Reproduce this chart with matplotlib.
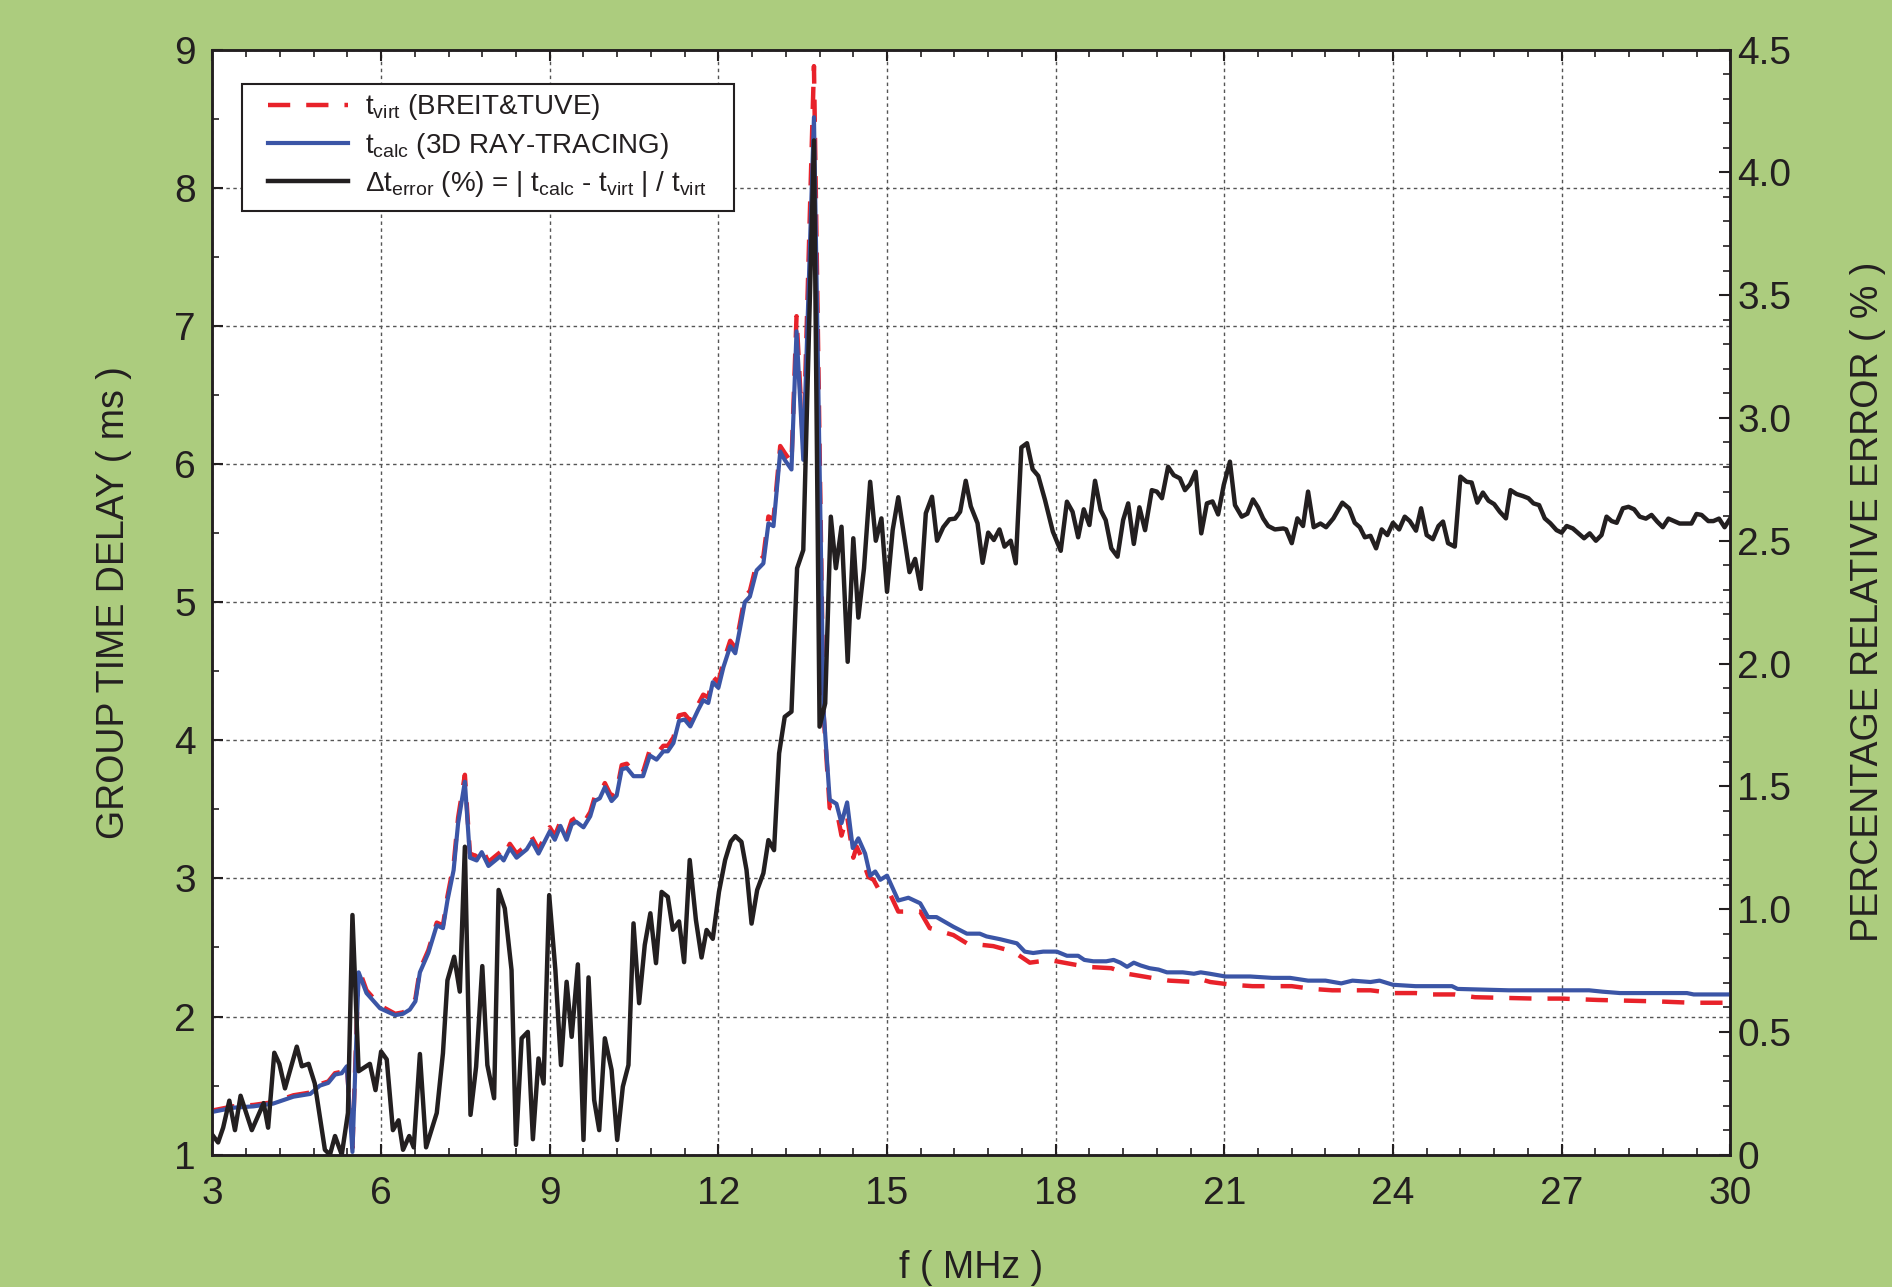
import matplotlib
matplotlib.use('Agg')
import matplotlib.pyplot as plt
from matplotlib.patches import Rectangle
from matplotlib.ticker import MultipleLocator, FixedLocator, FixedFormatter

# ---------------- data ----------------
calc_f = [3.00, 3.37, 3.73, 4.08, 4.44, 4.74, 4.91, 5.06, 5.18, 5.30, 5.39, 5.49, 5.60, 5.74, 5.98,
          6.25, 6.39, 6.51, 6.61, 6.69, 6.84, 6.99, 7.10, 7.18, 7.29, 7.37, 7.49, 7.58, 7.70, 7.79,
          7.91, 8.12, 8.18, 8.29, 8.41, 8.59, 8.68, 8.80, 9.00, 9.09, 9.19, 9.30, 9.39, 9.47, 9.60,
          9.72, 9.80, 9.89, 9.98, 10.10, 10.19, 10.28, 10.37, 10.49, 10.66, 10.78, 10.90, 11.02, 11.10,
          11.20, 11.30, 11.40, 11.50, 11.64, 11.73, 11.82, 11.90, 12.00, 12.09, 12.21, 12.30, 12.38,
          12.47, 12.56, 12.68, 12.80, 12.89, 12.98, 13.10, 13.18, 13.30, 13.39, 13.51, 13.70, 13.87,
          13.98, 14.10, 14.19, 14.29, 14.39, 14.49, 14.61, 14.70, 14.79, 14.88, 15.00, 15.20, 15.38,
          15.59, 15.73, 15.88, 16.18, 16.42, 16.65, 16.77, 17.01, 17.31, 17.45, 17.60, 17.78, 18.02,
          18.20, 18.40, 18.51, 18.67, 18.90, 19.03, 19.15, 19.27, 19.39, 19.51, 19.67, 19.83, 19.98,
          20.26, 20.46, 20.58, 20.74, 21.02, 21.22, 21.46, 21.85, 22.17, 22.49, 22.80, 23.08, 23.28,
          23.60, 23.76, 24.00, 24.40, 25.05, 25.15, 26.06, 27.00, 27.49, 27.73, 28.04, 29.23, 29.35, 30.00]
calc_t = [1.31, 1.34, 1.35, 1.37, 1.42, 1.44, 1.50, 1.52, 1.58, 1.59, 1.64, 1.02, 2.32, 2.17, 2.06,
          2.01, 2.02, 2.05, 2.11, 2.32, 2.46, 2.66, 2.64, 2.84, 3.06, 3.40, 3.70, 3.15, 3.13, 3.19,
          3.09, 3.16, 3.13, 3.22, 3.15, 3.21, 3.27, 3.18, 3.34, 3.28, 3.38, 3.28, 3.39, 3.41, 3.37,
          3.45, 3.56, 3.58, 3.66, 3.56, 3.60, 3.79, 3.80, 3.74, 3.74, 3.89, 3.86, 3.92, 3.92,
          3.98, 4.14, 4.15, 4.10, 4.22, 4.29, 4.27, 4.42, 4.38, 4.53, 4.68, 4.63, 4.80,
          5.00, 5.04, 5.23, 5.28, 5.57, 5.55, 6.09, 6.03, 5.96, 6.96, 6.03, 8.51, 4.22,
          3.57, 3.54, 3.40, 3.55, 3.22, 3.29, 3.18, 3.02, 3.05, 2.99, 3.02, 2.84, 2.86,
          2.82, 2.72, 2.72, 2.65, 2.60, 2.60, 2.58, 2.56, 2.53, 2.47, 2.46, 2.47, 2.47,
          2.44, 2.44, 2.41, 2.40, 2.40, 2.41, 2.39, 2.36, 2.39, 2.37, 2.35, 2.34, 2.32,
          2.32, 2.31, 2.32, 2.31, 2.29, 2.29, 2.29, 2.28, 2.28, 2.26, 2.26, 2.24, 2.26,
          2.25, 2.26, 2.23, 2.22, 2.22, 2.20, 2.19, 2.19, 2.19, 2.18, 2.17, 2.17, 2.16, 2.16]

virt_f = [3.00, 3.37, 3.73, 4.08, 4.44, 4.74, 4.91, 5.06, 5.18, 5.30, 5.39, 5.49, 5.60, 5.74, 5.98,
          6.25, 6.39, 6.51, 6.61, 6.69, 6.84, 6.99, 7.10, 7.18, 7.29, 7.37, 7.49, 7.58, 7.70, 7.79,
          7.91, 8.12, 8.18, 8.29, 8.41, 8.59, 8.68, 8.80, 9.00, 9.09, 9.19, 9.30, 9.39, 9.47, 9.60,
          9.72, 9.80, 9.89, 9.98, 10.10, 10.19, 10.28, 10.37, 10.49, 10.66, 10.78, 10.90, 11.02, 11.10,
          11.20, 11.30, 11.40, 11.50, 11.64, 11.73, 11.82, 11.90, 12.00, 12.09, 12.21, 12.30, 12.38,
          12.47, 12.56, 12.68, 12.80, 12.89, 12.98, 13.10, 13.18, 13.30, 13.39, 13.51, 13.70, 13.87,
          13.98, 14.10, 14.19, 14.29, 14.40, 14.46, 14.55, 14.67, 14.76, 14.84, 15.05, 15.20, 15.59,
          15.76, 16.18, 16.42, 16.89, 17.25, 17.54, 17.72, 17.88, 18.28, 18.55, 18.99, 19.27, 19.71,
          20.02, 20.46, 20.58, 20.75, 21.14, 21.50, 21.85, 22.20, 22.57, 22.92, 23.28, 23.60, 24.00,
          24.40, 24.71, 25.10, 25.46, 26.53, 27.00, 27.65, 28.68, 29.31, 30.00]
virt_t = [1.32, 1.35, 1.36, 1.38, 1.43, 1.45, 1.51, 1.53, 1.59, 1.60, 1.65, 1.05, 2.35, 2.19, 2.08,
          2.02, 2.03, 2.06, 2.13, 2.34, 2.48, 2.68, 2.66, 2.87, 3.10, 3.44, 3.75, 3.18, 3.16, 3.22,
          3.12, 3.19, 3.16, 3.25, 3.18, 3.24, 3.30, 3.21, 3.37, 3.31, 3.41, 3.31, 3.42, 3.44, 3.40,
          3.48, 3.59, 3.61, 3.69, 3.59, 3.63, 3.82, 3.83, 3.77, 3.77, 3.93, 3.90, 3.96, 3.96,
          4.02, 4.18, 4.19, 4.14, 4.26, 4.33, 4.31, 4.46, 4.42, 4.57, 4.72, 4.67, 4.84,
          5.04, 5.08, 5.28, 5.33, 5.62, 5.60, 6.13, 6.08, 6.01, 7.07, 6.10, 8.88, 4.20,
          3.51, 3.50, 3.31, 3.45, 3.15, 3.23, 3.15, 3.01, 2.99, 2.93, 2.89, 2.76, 2.76,
          2.64, 2.59, 2.53, 2.51, 2.47, 2.39, 2.40, 2.41, 2.38, 2.36, 2.35, 2.31, 2.28,
          2.26, 2.25, 2.27, 2.25, 2.23, 2.22, 2.22, 2.22, 2.20, 2.19, 2.19, 2.19, 2.17,
          2.17, 2.16, 2.16, 2.14, 2.13, 2.13, 2.12, 2.11, 2.10, 2.10]

err_f = [3.00, 3.10, 3.19, 3.30, 3.40, 3.50, 3.70, 3.91, 3.99, 4.10, 4.19, 4.29, 4.50, 4.59, 4.71,
         4.82, 5.00, 5.09, 5.18, 5.30, 5.41, 5.49, 5.60, 5.80, 5.90, 6.00, 6.10, 6.21, 6.31, 6.39,
         6.50, 6.58, 6.69, 6.80, 6.99, 7.10, 7.18, 7.30, 7.40, 7.49, 7.59, 7.69, 7.80, 7.89, 8.01,
         8.09, 8.20, 8.32, 8.40, 8.50, 8.61, 8.70, 8.80, 8.89, 8.99, 9.10, 9.20, 9.30, 9.39, 9.50,
         9.60, 9.69, 9.79, 9.88, 9.98, 10.10, 10.20, 10.30, 10.40, 10.49, 10.59, 10.69, 10.79, 10.89,
         10.99, 11.10, 11.19, 11.30, 11.39, 11.49, 11.60, 11.70, 11.79, 11.90, 12.01, 12.12, 12.22,
         12.30, 12.41, 12.50, 12.59, 12.69, 12.80, 12.89, 12.99, 13.08, 13.18, 13.30, 13.40, 13.51,
         13.70, 13.80, 13.90, 14.00, 14.09, 14.19, 14.30, 14.40, 14.49, 14.59, 14.70, 14.80, 14.90,
         15.00, 15.10, 15.20, 15.40, 15.50, 15.60, 15.69, 15.80, 15.89, 16.00, 16.11, 16.21, 16.30,
         16.40, 16.49, 16.61, 16.70, 16.80, 16.90, 17.00, 17.09, 17.20, 17.29, 17.39, 17.49, 17.59,
         17.69, 17.81, 17.95, 18.09, 18.20, 18.30, 18.40, 18.50, 18.60, 18.70, 18.80, 18.89, 18.99,
         19.10, 19.20, 19.29, 19.39, 19.49, 19.59, 19.71, 19.80, 19.89, 20.00, 20.10, 20.21, 20.30,
         20.39, 20.49, 20.59, 20.69, 20.79, 20.89, 20.99, 21.10, 21.19, 21.31, 21.41, 21.51, 21.60,
         21.69, 21.78, 21.90, 22.05, 22.10, 22.20, 22.30, 22.40, 22.49, 22.59, 22.71, 22.81, 22.94,
         23.10, 23.22, 23.32, 23.41, 23.50, 23.60, 23.70, 23.80, 23.90, 24.00, 24.11, 24.21, 24.30,
         24.41, 24.50, 24.60, 24.71, 24.81, 24.89, 24.98, 25.10, 25.20, 25.31, 25.40, 25.50, 25.60,
         25.70, 25.80, 25.90, 26.01, 26.09, 26.20, 26.31, 26.41, 26.50, 26.60, 26.70, 26.80, 26.91,
         27.00, 27.09, 27.20, 27.30, 27.40, 27.50, 27.61, 27.71, 27.80, 27.89, 27.98, 28.09, 28.19,
         28.29, 28.39, 28.50, 28.60, 28.70, 28.80, 28.90, 29.00, 29.10, 29.21, 29.31, 29.40, 29.49,
         29.61, 29.70, 29.80, 29.90, 30.00]
err_p = [0.08, 0.05, 0.11, 0.22, 0.10, 0.24, 0.10, 0.21, 0.11, 0.415, 0.37, 0.27, 0.44, 0.36, 0.37,
         0.29, 0.02, 0.00, 0.076, 0.00, 0.17, 0.976, 0.34, 0.37, 0.263, 0.42, 0.388, 0.10, 0.14, 0.02,
         0.076, 0.03, 0.41, 0.03, 0.17, 0.413, 0.71, 0.806, 0.664, 1.254, 0.162, 0.358, 0.768, 0.365, 0.23,
         1.078, 1.003, 0.752, 0.04, 0.474, 0.50, 0.063, 0.392, 0.29, 1.057, 0.752, 0.365, 0.704, 0.48, 0.775,
         0.06, 0.722, 0.223, 0.10, 0.474, 0.345, 0.06, 0.277, 0.365, 0.942, 0.617, 0.854, 0.983, 0.78,
         1.07, 1.05, 0.916, 0.95, 0.784, 1.20, 0.956, 0.803, 0.915, 0.879, 1.07, 1.20, 1.275,
         1.297, 1.274, 1.16, 0.941, 1.078, 1.146, 1.281, 1.24, 1.634, 1.783, 1.804, 2.388, 2.462,
         4.13, 1.743, 1.838, 2.598, 2.388, 2.557, 2.007, 2.51, 2.187, 2.387, 2.74, 2.50, 2.591,
         2.292, 2.543, 2.677, 2.372, 2.426, 2.304, 2.612, 2.679, 2.50, 2.555, 2.587, 2.59, 2.618,
         2.744, 2.64, 2.571, 2.41, 2.533, 2.503, 2.546, 2.476, 2.50, 2.408, 2.88, 2.897, 2.791,
         2.764, 2.666, 2.537, 2.459, 2.659, 2.618, 2.514, 2.628, 2.564, 2.744, 2.625, 2.584, 2.469,
         2.435, 2.584, 2.652, 2.487, 2.636, 2.543, 2.706, 2.70, 2.673, 2.801, 2.767, 2.754, 2.706,
         2.73, 2.781, 2.53, 2.652, 2.66, 2.607, 2.727, 2.822, 2.645, 2.598, 2.61, 2.668, 2.636,
         2.591, 2.56, 2.546, 2.55, 2.546, 2.49, 2.591, 2.56, 2.70, 2.555, 2.57, 2.555, 2.591,
         2.655, 2.632, 2.573, 2.555, 2.514, 2.52, 2.469, 2.546, 2.523, 2.573, 2.546, 2.598, 2.58,
         2.541, 2.632, 2.523, 2.506, 2.56, 2.578, 2.49, 2.476, 2.761, 2.74, 2.737, 2.655, 2.696,
         2.663, 2.649, 2.618, 2.591, 2.706, 2.69, 2.682, 2.673, 2.652, 2.645, 2.591, 2.571, 2.543,
         2.533, 2.56, 2.55, 2.53, 2.51, 2.53, 2.50, 2.523, 2.598, 2.58, 2.573, 2.632, 2.638,
         2.628, 2.598, 2.59, 2.605, 2.578, 2.555, 2.59, 2.58, 2.57, 2.57, 2.57, 2.609, 2.605,
         2.58, 2.58, 2.59, 2.555, 2.591]

x_ticks = [3, 6, 9, 12, 15, 18, 21, 24, 27, 30]
left_ticks = [1, 2, 3, 4, 5, 6, 7, 8, 9]
right_ticks = [0, 0.5, 1.0, 1.5, 2.0, 2.5, 3.0, 3.5, 4.0, 4.5]
right_labels = ['0', '0.5', '1.0', '1.5', '2.0', '2.5', '3.0', '3.5', '4.0', '4.5']

lab_virt = r'$\mathrm{t}_{\mathrm{virt}}$ (BREIT&TUVE)'
lab_calc = r'$\mathrm{t}_{\mathrm{calc}}$ (3D RAY-TRACING)'
lab_err = (r'$\Delta\mathrm{t}_{\mathrm{error}}$ (%) = | $\mathrm{t}_{\mathrm{calc}}$ - '
           r'$\mathrm{t}_{\mathrm{virt}}$ | / $\mathrm{t}_{\mathrm{virt}}$')

# ---------------- style ----------------
plt.rcParams['font.family'] = ['Liberation Sans', 'DejaVu Sans']
plt.rcParams['mathtext.fontset'] = 'custom'
plt.rcParams['mathtext.rm'] = 'Liberation Sans'
plt.rcParams['mathtext.it'] = 'Liberation Sans:italic'
plt.rcParams['mathtext.bf'] = 'Liberation Sans:bold'

BG = '#accc7e'
TXT = '#231f20'
RED = '#e8222a'
BLUE = '#3b55a6'
BLACK = '#231f20'

fig = plt.figure(figsize=(18.92, 12.87), dpi=100, facecolor=BG)
ax = fig.add_axes([0.1123, 0.1028, 0.9145 - 0.1123, 0.9615 - 0.1028])
ax.set_facecolor('white')
ax2 = ax.twinx()
ax2.patch.set_visible(False)

l_virt, = ax.plot(virt_f, virt_t, color=RED, lw=3.2, dashes=(5.0, 3.6), zorder=3)
l_calc, = ax.plot(calc_f, calc_t, color=BLUE, lw=3.0, zorder=4)
l_err, = ax2.plot(err_f, err_p, color=BLACK, lw=3.2, zorder=5)

ax.set_xlim(3, 30)
ax.set_ylim(1, 9)
ax2.set_ylim(0, 4.5)

ax.xaxis.set_major_locator(FixedLocator(x_ticks))
ax.xaxis.set_minor_locator(MultipleLocator(0.6))
ax.yaxis.set_major_locator(FixedLocator(left_ticks))
ax.yaxis.set_minor_locator(MultipleLocator(0.5))
ax2.yaxis.set_major_locator(FixedLocator(right_ticks))
ax2.yaxis.set_major_formatter(FixedFormatter(right_labels))
ax2.yaxis.set_minor_locator(MultipleLocator(0.1))

ax.set_axisbelow(True)
ax.grid(True, which='major', color='#555555', linestyle=(0, (2.5, 2.5)), linewidth=1.0)

ax.tick_params(axis='x', which='both', direction='in', top=True, bottom=True,
               labelsize=28, colors=TXT, pad=15)
ax.tick_params(axis='x', which='major', length=8, width=1.5)
ax.tick_params(axis='x', which='minor', length=5, width=1.2)
ax.tick_params(axis='y', which='both', direction='in', left=True, right=False,
               labelsize=28, colors=TXT, pad=12)
ax.tick_params(axis='y', which='major', length=8, width=1.5)
ax.tick_params(axis='y', which='minor', length=5, width=1.2)
ax2.tick_params(axis='y', which='both', direction='in', labelsize=28, colors=TXT, pad=5)
ax2.tick_params(axis='y', which='major', length=8, width=1.5)
ax2.tick_params(axis='y', which='minor', length=5, width=1.2)

for a in (ax, ax2):
    for s in a.spines.values():
        s.set_linewidth(1.8)
        s.set_color(TXT)

ax.set_xlabel('f ( MHz )', fontsize=27, color=TXT, labelpad=28)
ax.set_ylabel('GROUP TIME DELAY ( ms )', fontsize=27, color=TXT, labelpad=30)
ax2.set_ylabel('PERCENTAGE RELATIVE ERROR ( % )', fontsize=27, color=TXT, labelpad=42)

# legend box (white panel with black border) and the legend entries inside it
box = Rectangle((0.0195, 0.8539), 0.3241, 0.1149, transform=ax2.transAxes,
                facecolor='white', edgecolor=TXT, linewidth=1.5, zorder=9)
ax2.add_patch(box)
leg = ax2.legend([l_virt, l_calc, l_err], [lab_virt, lab_calc, lab_err],
                 loc='upper left', bbox_to_anchor=(0.0368, 0.9612), borderaxespad=0,
                 fontsize=20, frameon=False, handlelength=2.87, handletextpad=0.62,
                 borderpad=0.0, labelspacing=0.3)
leg.set_zorder(10)
for t in leg.get_texts():
    t.set_color(TXT)

fig.savefig('out.png', dpi=100, facecolor=BG)
